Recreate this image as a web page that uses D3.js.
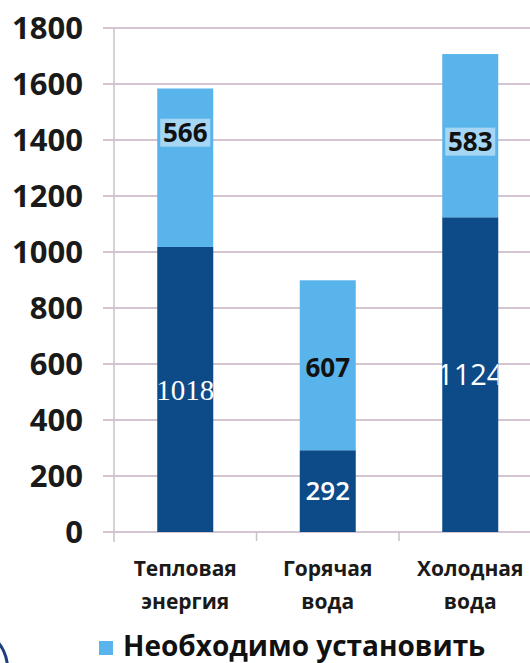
<!DOCTYPE html>
<html><head><meta charset="utf-8">
<script src="https://cdn.jsdelivr.net/npm/d3@7"></script>
<style>html,body{margin:0;padding:0;background:#fff;}svg{display:block;}</style>
</head><body>
<svg id="c" width="530" height="663"></svg>
<script>
const categories = [["Тепловая","энергия"],["Горячая","вода"],["Холодная","вода"]];
const installed = [1018, 292, 1124];
const needed = [566, 607, 583];
const yTicks = [0,200,400,600,800,1000,1200,1400,1600,1800];
const legendLabel = "Необходимо установить";

const svg = d3.select("#c");
const W = 530, H = 663;
const x = d3.scaleBand().domain(d3.range(categories.length)).range([114, 541.5]).paddingInner(0.607).paddingOuter(0.3035);
const y = d3.scaleLinear().domain([0,1800]).range([532, 28]);
const dark = "#0d4a88", light = "#5ab4ec", grid = "#c6b2c2";

// gridlines
svg.append("g").selectAll("line").data(yTicks).join("line")
  .attr("x1",103).attr("x2",W).attr("y1",d=>y(d)).attr("y2",d=>y(d))
  .attr("stroke",grid).attr("stroke-width",1.6);

// y axis line
svg.append("line").attr("x1",114).attr("x2",114).attr("y1",y(1800)).attr("y2",y(0)+10)
  .attr("stroke","#c8c2c8").attr("stroke-width",1.5);
// category ticks
svg.append("g").selectAll("line").data([1,2]).join("line")
  .attr("x1",d=>x.range()[0]+d*x.step()).attr("x2",d=>x.range()[0]+d*x.step())
  .attr("y1",y(0)).attr("y2",y(0)+9).attr("stroke","#c8c2c8").attr("stroke-width",1.5);

// y tick labels
svg.append("g").selectAll("text").data(yTicks).join("text")
  .attr("x",83).attr("y",d=>y(d)).attr("dy","0.36em").attr("text-anchor","end")
  .attr("font-family","'Open Sans',sans-serif").attr("font-weight",700).attr("font-size",31)
  .attr("fill","#1a1a1a").text(d=>d);

// bars
const g = svg.append("g");
const defs = svg.append("defs");
categories.forEach((c,i)=>{
  const bx = x(i), bw = x.bandwidth();
  g.append("rect").attr("x",bx).attr("width",bw).attr("y",y(installed[i])).attr("height",y(0)-y(installed[i])).attr("fill",dark);
  g.append("rect").attr("x",bx).attr("width",bw).attr("y",y(installed[i]+needed[i])).attr("height",y(installed[i])-y(installed[i]+needed[i])).attr("fill",light);
  defs.append("clipPath").attr("id","clip"+i).append("rect").attr("x",bx).attr("width",bw).attr("y",0).attr("height",H);
});

// labels
const darkFonts = ["'Liberation Serif',serif","'Open Sans',sans-serif","'Open Sans',sans-serif"];
const darkSizes = [29, 26, 29];
const darkWeights = [400, 600, 400];
const lightShift = [-35, 2, 6];
categories.forEach((c,i)=>{
  const cx = x(i)+x.bandwidth()/2;
  svg.append("text").attr("clip-path","url(#clip"+i+")")
    .attr("x",cx).attr("y",y(installed[i]/2)).attr("dy","0.36em").attr("text-anchor","middle")
    .attr("font-family",darkFonts[i]).attr("font-weight",darkWeights[i]).attr("font-size",darkSizes[i])
    .attr("fill","#fff").text(installed[i]);
  const ly = y(installed[i]+needed[i]/2)+lightShift[i];
  if(i!==1){
    svg.append("rect").attr("x",cx-25).attr("y",ly-14).attr("width",50).attr("height",28)
      .attr("fill","#e4f3fc").attr("opacity",0.55);
  }
  svg.append("text")
    .attr("x",cx).attr("y",ly).attr("dy","0.36em").attr("text-anchor","middle")
    .attr("font-family","'Open Sans',sans-serif").attr("font-weight",700).attr("font-size",26)
    .attr("fill","#111").text(needed[i]);
});

// category labels
categories.forEach((c,i)=>{
  const cx = x(i)+x.bandwidth()/2;
  const t = svg.append("text").attr("text-anchor","middle")
    .attr("font-family","'Open Sans',sans-serif").attr("font-weight",700).attr("font-size",21).attr("fill","#1a1a1a");
  c.forEach((line,k)=>t.append("tspan").attr("x",cx).attr("y",576+k*33).text(line));
});

// legend
svg.append("rect").attr("x",99).attr("y",641).attr("width",14).attr("height",14).attr("fill",light);
svg.append("text").attr("x",123).attr("y",646).attr("dy","0.36em")
  .attr("font-family","'Open Sans',sans-serif").attr("font-weight",700).attr("font-size",28)
  .attr("fill","#111").text(legendLabel);

// decorative arc at left edge
svg.append("path").attr("transform","translate(-32,668)")
  .attr("d",d3.arc().innerRadius(38).outerRadius(41).startAngle(0.05).endAngle(Math.PI/2.1)())
  .attr("fill","#1d3f7c");
</script>
</body></html>
